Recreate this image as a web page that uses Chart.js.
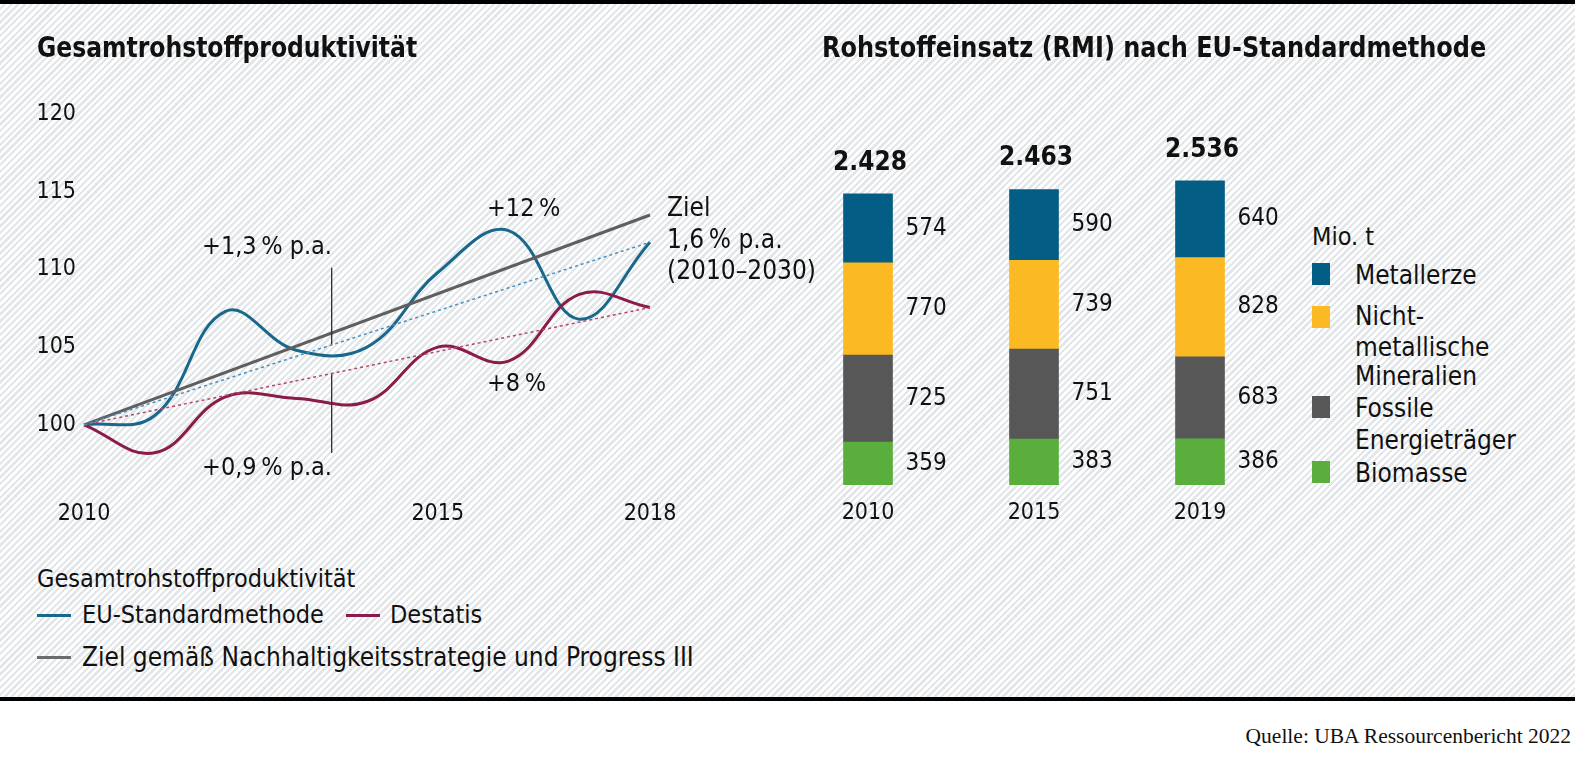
<!DOCTYPE html>
<html lang="de">
<head>
<meta charset="utf-8">
<script src="https://cdn.jsdelivr.net/npm/chart.js@4/dist/chart.umd.min.js"></script>
<style>
  html, body { margin: 0; padding: 0; }
  body {
    width: 1575px; height: 775px; position: relative; overflow: hidden; background: #fff;
    font-family: 'DejaVu Sans Condensed', 'Liberation Sans', sans-serif; color: #111;
  }
  #panel {
    position: absolute; left: 0; top: 0; width: 1575px; height: 701px; box-sizing: border-box;
    border-top: 4px solid #000; border-bottom: 4px solid #000;
    background: repeating-linear-gradient(135deg, #ffffff 0 2.4px, #e4e7e9 2.4px 4.8px);
  }
  canvas { position: absolute; top: 0; }
  .t { position: absolute; white-space: nowrap; line-height: 30px; font-size: 25px; }
  .title { font-weight: bold; font-size: 29px; transform-origin: left center; }
  .ln { position: absolute; width: 34px; height: 3px; }
  .sq { position: absolute; width: 18px; height: 22px; }
  #src { position: absolute; right: 4px; top: 724px; font-family: 'Liberation Serif', 'DejaVu Serif', serif; font-size: 21.5px; }
</style>
</head>
<body>
<div id="panel"></div>
<canvas id="lineChart" style="left:0px" width="820" height="540"></canvas>
<canvas id="barChart" style="left:785px" width="520" height="540"></canvas>

<div class="t title" style="left:37px; top:32px; transform:scaleX(0.9)">Gesamtrohstoffproduktivität</div>
<div class="t title" style="left:822px; top:32px; transform:scaleX(0.92)">Rohstoffeinsatz (RMI) nach EU-Standardmethode</div>

<div class="t" style="right:1243px; top:231px">+1,3&#8239;% p.a.</div>
<div class="t" style="right:1243px; top:452px">+0,9&#8239;% p.a.</div>
<div class="t" style="left:487px; top:193px">+12&#8239;%</div>
<div class="t" style="left:487px; top:368px">+8&#8239;%</div>
<div class="t" style="left:667px; top:192px; font-size:26px">Ziel</div>
<div class="t" style="left:667px; top:224px; font-size:26px">1,6&#8239;% p.a.</div>
<div class="t" style="left:667px; top:255px; font-size:26px">(2010–2030)</div>

<div class="t" style="left:37px; top:564px">Gesamtrohstoffproduktivität</div>
<div class="ln" style="left:37px; top:614px; background:#19688c"></div>
<div class="t" style="left:82px; top:600px">EU-Standardmethode</div>
<div class="ln" style="left:346px; top:614px; background:#8a1c4b"></div>
<div class="t" style="left:390px; top:600px">Destatis</div>
<div class="ln" style="left:37px; top:656px; background:#6b6b6b"></div>
<div class="t" style="left:82px; top:642px; font-size:26px">Ziel gemäß Nachhaltigkeitsstrategie und Progress III</div>

<div class="t" style="left:1312px; top:222px">Mio. t</div>
<div class="sq" style="left:1312px; top:263px; background:#045d84"></div>
<div class="t" style="left:1355px; top:260px; font-size:26px">Metallerze</div>
<div class="sq" style="left:1312px; top:306px; background:#fbb923"></div>
<div class="t" style="left:1355px; top:301px; font-size:26px">Nicht-</div>
<div class="t" style="left:1355px; top:332px; font-size:26px">metallische</div>
<div class="t" style="left:1355px; top:361px; font-size:26px">Mineralien</div>
<div class="sq" style="left:1312px; top:396px; background:#575757"></div>
<div class="t" style="left:1355px; top:393px; font-size:26px">Fossile</div>
<div class="t" style="left:1355px; top:425px; font-size:26px">Energieträger</div>
<div class="sq" style="left:1312px; top:461px; background:#5aaf3c"></div>
<div class="t" style="left:1355px; top:458px; font-size:26px">Biomasse</div>

<div id="src">Quelle: UBA Ressourcenbericht 2022</div>

<script>
const FONT = "'DejaVu Sans Condensed', 'Liberation Sans', sans-serif";

// --- Gesamtrohstoffproduktivität (Index 2010 = 100)
const years = [2010, 2011, 2012, 2013, 2014, 2015, 2016, 2017, 2018];
const euStandard = [100, 100.6, 107.3, 104.8, 105.0, 109.8, 112.5, 106.8, 111.75];
const destatis = [100, 98.2, 101.8, 101.7, 101.5, 105.0, 104.1, 108.4, 107.55];
const targetYears = [2010, 2018];
const targetValues = [100, 113.5];
const yTicks = [100, 105, 110, 115, 120];
const xTicks = [2010, 2015, 2018];
const markerYear = 2013.5;
const markerUpper = [110.1, 105.15];
const markerLower = [103.3, 98.2];

// --- Rohstoffeinsatz (RMI), Mio. t
const rmiYears = ['2010', '2015', '2019'];
const metallerze = [574, 590, 640];
const nichtmetallisch = [770, 739, 828];
const fossile = [725, 751, 683];
const biomasse = [359, 383, 386];
const rmiTotals = ['2.428', '2.463', '2.536'];

const pts = (xs, ys) => xs.map((x, i) => ({ x: x, y: ys[i] }));
const last = a => a[a.length - 1];

new Chart(document.getElementById('lineChart'), {
  type: 'line',
  data: {
    datasets: [
      { data: pts([years[0], last(years)], [euStandard[0], last(euStandard)]), borderColor: '#4790bd', borderWidth: 1.5, borderDash: [3, 3], pointRadius: 0 },
      { data: pts([years[0], last(years)], [destatis[0], last(destatis)]), borderColor: '#b4466f', borderWidth: 1.5, borderDash: [3, 3], pointRadius: 0 },
      { data: pts([markerYear, markerYear], markerUpper), borderColor: '#333', borderWidth: 1, pointRadius: 0 },
      { data: pts([markerYear, markerYear], markerLower), borderColor: '#333', borderWidth: 1, pointRadius: 0 },
      { data: pts(targetYears, targetValues), borderColor: '#5f5f5f', borderWidth: 3, pointRadius: 0 },
      { data: pts(years, destatis), borderColor: '#8a1c4b', borderWidth: 3, pointRadius: 0, tension: 0.4 },
      { data: pts(years, euStandard), borderColor: '#19688c', borderWidth: 3, pointRadius: 0, tension: 0.4 }
    ]
  },
  options: {
    responsive: false,
    animation: false,
    clip: false,
    layout: { padding: { left: 0, top: 114, right: 170, bottom: 0 } },
    plugins: { legend: { display: false }, tooltip: { enabled: false } },
    scales: {
      x: {
        type: 'linear', min: 2010, max: 2018,
        grid: { display: false }, border: { display: false },
        afterBuildTicks: s => { s.ticks = xTicks.map(v => ({ value: v })); },
        afterFit: s => { s.height = 540 - 487; },
        ticks: { padding: 5, color: '#111', font: { family: FONT, size: 23 }, callback: v => String(v) }
      },
      y: {
        min: 96, max: 120,
        grid: { display: false }, border: { display: false },
        afterBuildTicks: s => { s.ticks = yTicks.map(v => ({ value: v })); },
        afterFit: s => { s.width = 84; },
        ticks: { padding: 0, color: '#111', font: { family: FONT, size: 23 }, callback: v => String(v) }
      }
    }
  }
});

const barLabels = {
  id: 'barLabels',
  afterDatasetsDraw(chart) {
    const ctx = chart.ctx;
    ctx.save();
    ctx.fillStyle = '#111';
    ctx.textBaseline = 'middle';
    chart.data.datasets.forEach((ds, di) => {
      chart.getDatasetMeta(di).data.forEach((bar, i) => {
        ctx.font = '24px ' + FONT;
        ctx.textAlign = 'left';
        ctx.fillText(String(ds.data[i]), bar.x + bar.width / 2 + 13, (bar.y + bar.base) / 2);
      });
    });
    const top = chart.getDatasetMeta(chart.data.datasets.length - 1).data;
    top.forEach((bar, i) => {
      ctx.font = 'bold 26px ' + FONT;
      ctx.textAlign = 'center';
      ctx.fillText(rmiTotals[i], bar.x + 2, bar.y - 31);
    });
    ctx.restore();
  }
};

new Chart(document.getElementById('barChart'), {
  type: 'bar',
  data: {
    labels: rmiYears,
    datasets: [
      { label: 'Biomasse', data: biomasse, backgroundColor: '#5aaf3c' },
      { label: 'Fossile Energieträger', data: fossile, backgroundColor: '#575757' },
      { label: 'Nichtmetallische Mineralien', data: nichtmetallisch, backgroundColor: '#fbb923' },
      { label: 'Metallerze', data: metallerze, backgroundColor: '#045d84' }
    ]
  },
  options: {
    responsive: false,
    animation: false,
    layout: { padding: { left: 0, top: 125.3, right: 22, bottom: 0 } },
    datasets: { bar: { barThickness: 49, borderWidth: 0 } },
    plugins: { legend: { display: false }, tooltip: { enabled: false } },
    scales: {
      x: {
        stacked: true,
        grid: { display: false }, border: { display: false },
        afterFit: s => { s.height = 55; },
        ticks: { padding: 6, color: '#111', font: { family: FONT, size: 23 } }
      },
      y: { stacked: true, display: false, min: 0, max: 3000 }
    }
  },
  plugins: [barLabels]
});
</script>
</body>
</html>
